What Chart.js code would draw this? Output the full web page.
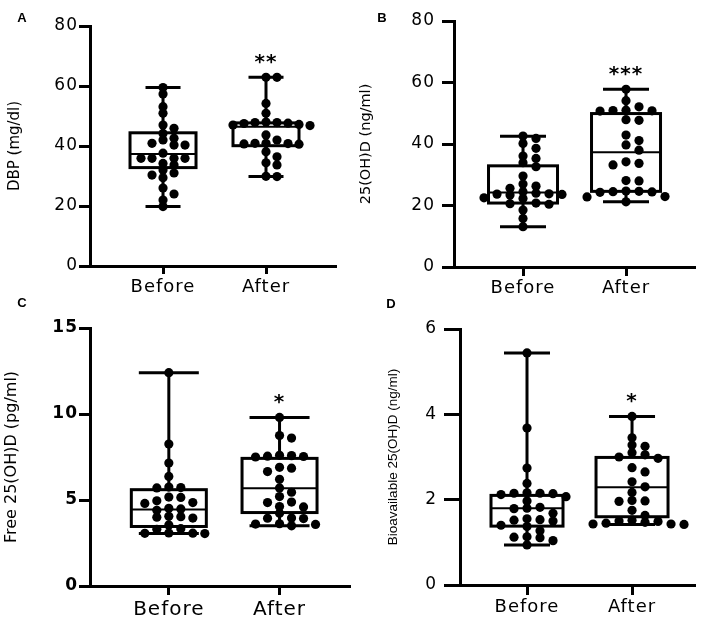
<!DOCTYPE html>
<html>
<head>
<meta charset="utf-8">
<script src="https://cdn.jsdelivr.net/npm/chart.js@4.4.1/dist/chart.umd.min.js"></script>
<style>
  html,body{margin:0;padding:0;background:#fff;}
  #wrap{position:relative;width:709px;height:618px;overflow:hidden;background:#fff;}
  canvas{position:absolute;}
  .lbl{position:absolute;font:bold 13px "Liberation Sans",Arial,sans-serif;color:#000;transform:translate(-50%,-50%);}
</style>
</head>
<body>
<div id="wrap">
  <canvas id="cA"></canvas><canvas id="cB"></canvas><canvas id="cC"></canvas><canvas id="cD"></canvas>
  <div class="lbl" style="left:22px;top:17px">A</div>
  <div class="lbl" style="left:382px;top:17px">B</div>
  <div class="lbl" style="left:22px;top:302px">C</div>
  <div class="lbl" style="left:391px;top:303px">D</div>
</div>
<script>
// ---------- data ----------
const categories = ['Before', 'After'];

// A: DBP (mg/dl)
const dbpBefore = [59.5, 57.3, 53.1, 50.9, 47, 45.9, 44.2, 42.6, 42, 40.9, 40.3, 40.3, 37.6, 35.9, 35.9, 35.9, 35.9, 34.2, 33.7, 32, 31, 30.3, 29.4, 26, 24, 22, 19.8];
const dbpAfter  = [62.9, 62.9, 54.2, 50.9, 48, 47.8, 47.8, 47.6, 47.5, 47.2, 47, 46.8, 43.7, 42, 40.9, 40.9, 40.8, 40.7, 40.6, 38.1, 36.4, 34.4, 33.7, 29.9, 29.8];
// box stats: [min, q1, median, q3, max]
const dbpBoxBefore = [19.8, 32.8, 37.3, 44.4, 59.5];
const dbpBoxAfter  = [29.8, 40.1, 46.4, 47.7, 62.9];

// B: 25(OH)D (ng/ml)
const ohdBefore = [42.6, 41.8, 40.2, 38.6, 36.1, 35.3, 33.9, 32.6, 29.6, 27, 26.3, 25.6, 24.5, 24, 23.8, 23.7, 23.6, 23.4, 22.5, 22.3, 20.8, 20.6, 20.4, 18.5, 15.8, 13.1];
const ohdAfter  = [57.8, 54.1, 52.1, 51, 50.9, 50.8, 50.7, 47.9, 47.7, 42.9, 41.1, 39.7, 38, 34.2, 33.7, 33.2, 28.1, 28, 24.7, 24.6, 24.5, 24.4, 24.3, 22.9, 22.8, 21.2];
const ohdBoxBefore = [13.1, 20.8, 24.2, 32.9, 42.5];
const ohdBoxAfter  = [21.2, 24.6, 37.3, 49.9, 57.8];

// C: Free 25(OH)D (pg/ml)
const freeBefore = [12.4, 8.25, 7.15, 6.37, 5.75, 5.72, 5.7, 5.17, 5.15, 4.95, 4.85, 4.8, 4.52, 4.48, 4.4, 4.05, 4.03, 4.0, 3.95, 3.55, 3.33, 3.3, 3.08, 3.07, 3.06, 3.05];
const freeAfter  = [9.8, 8.75, 8.6, 7.6, 7.58, 7.55, 7.53, 7.5, 6.9, 6.85, 6.65, 6.2, 5.7, 5.45, 5.2, 4.88, 4.85, 4.62, 4.6, 4.23, 3.95, 3.94, 3.92, 3.62, 3.6, 3.58, 3.5];
const freeBoxBefore = [3.05, 3.46, 4.45, 5.6, 12.4];
const freeBoxAfter  = [3.5, 4.27, 5.69, 7.42, 9.8];

// D: Bioavailable 25(OH)D (ng/ml)
const bioBefore = [5.44, 3.68, 2.74, 2.38, 2.16, 2.15, 2.15, 2.14, 2.12, 2.07, 1.97, 1.82, 1.8, 1.79, 1.68, 1.55, 1.53, 1.52, 1.5, 1.4, 1.37, 1.27, 1.13, 1.12, 1.11, 1.04, 0.94];
const bioAfter  = [3.95, 3.45, 3.28, 3.25, 3.1, 3.05, 3.0, 2.97, 2.75, 2.65, 2.42, 2.3, 2.17, 1.98, 1.97, 1.96, 1.75, 1.63, 1.52, 1.5, 1.49, 1.47, 1.45, 1.43, 1.43, 1.42];
const bioBoxBefore = [0.94, 1.38, 1.8, 2.1, 5.44];
const bioBoxAfter  = [1.42, 1.6, 2.29, 2.99, 3.95];

const yTitles = ['DBP (mg/dl)', '25(OH)D (ng/ml)', 'Free 25(OH)D (pg/ml)', 'Bioavailable 25(OH)D (ng/ml)'];
const yMaxes = [80, 80, 15, 6];
const ySteps = [20, 20, 5, 2];
const signif = ['**', '***', '*', '*'];

// ---------- layout / style per panel ----------
const FONT = '"DejaVu Sans", sans-serif';
const panels = [
  {id:'cA', left:0, top:0, w:354, h:300, padTop:26, padRight:19, yw:90, xh:34, xmin:0.291, xmax:2.670,
   before:dbpBefore, after:dbpAfter, boxes:[dbpBoxBefore, dbpBoxAfter],
   titleFont:{size:15, family:FONT}, titlePad:6, yTickLen:11, yTickPad:1, yTickFont:{size:17, family:FONT},
   xTickLen:8, xTickPad:3, xTickFont:{size:18, family:FONT}, boxHalf:33, capHalf:17.5, spacing:11},
  {id:'cB', left:354, top:0, w:355, h:300, padTop:21, padRight:15, yw:100, xh:33, xmin:0.330, xmax:2.660,
   before:ohdBefore, after:ohdAfter, boxes:[ohdBoxBefore, ohdBoxAfter],
   titleFont:{size:14.5, family:FONT}, titlePad:3.3, yTickLen:12, yTickPad:7, yTickFont:{size:17, family:FONT},
   xTickLen:9, xTickPad:2, xTickFont:{size:18, family:FONT}, boxHalf:34.5, capHalf:23, spacing:13},
  {id:'cC', left:0, top:300, w:354, h:318, padTop:28, padRight:4, yw:90, xh:32, xmin:0.288, xmax:2.631,
   before:freeBefore, after:freeAfter, boxes:[freeBoxBefore, freeBoxAfter],
   titleFont:{size:16, family:FONT}, titlePad:2.4, yTickLen:11, yTickPad:1, yTickFont:{size:17, family:FONT, weight:'bold'},
   xTickLen:9, xTickPad:3, xTickFont:{size:20, family:FONT}, boxHalf:37.5, capHalf:30, spacing:12},
  {id:'cD', left:354, top:300, w:355, h:318, padTop:29, padRight:15, yw:106, xh:33, xmin:0.362, xmax:2.590,
   before:bioBefore, after:bioAfter, boxes:[bioBoxBefore, bioBoxAfter],
   titleFont:{size:13.5, family:'"Liberation Sans", Arial, sans-serif'}, titlePad:31, yTickLen:16, yTickPad:7, yTickFont:{size:17, family:FONT},
   xTickLen:10, xTickPad:2, xTickFont:{size:18, family:FONT}, boxHalf:36, capHalf:23, spacing:13}
];

function makeBoxPlugin(p, idx){
  return {
    id:'boxes'+idx,
    beforeDraw(chart){ chart.ctx.letterSpacing = '0px'; },
    beforeDatasetsDraw(chart){
      const ctx = chart.ctx, xs = chart.scales.x, ys = chart.scales.y;
      ctx.save();
      ctx.strokeStyle = '#000';
      ctx.lineCap = 'butt';
      p.boxes.forEach((s, i) => {
        const cx = xs.getPixelForValue(i + 1);
        const [mn, q1, md, q3, mx] = s.map(v => ys.getPixelForValue(v));
        ctx.lineWidth = 3;
        ctx.beginPath();
        ctx.moveTo(cx, mx); ctx.lineTo(cx, q3);
        ctx.moveTo(cx, q1); ctx.lineTo(cx, mn);
        ctx.moveTo(cx - p.capHalf, mx); ctx.lineTo(cx + p.capHalf, mx);
        ctx.moveTo(cx - p.capHalf, mn); ctx.lineTo(cx + p.capHalf, mn);
        ctx.stroke();
        ctx.strokeRect(cx - p.boxHalf, q3, 2 * p.boxHalf, q1 - q3);
        ctx.lineWidth = 2;
        ctx.beginPath();
        ctx.moveTo(cx - p.boxHalf, md); ctx.lineTo(cx + p.boxHalf, md);
        ctx.stroke();
      });
      ctx.restore();
    },
    afterDatasetsDraw(chart){ chart.ctx.letterSpacing = '1px'; },
    afterDraw(chart){
      const ctx = chart.ctx, xs = chart.scales.x, ys = chart.scales.y;
      ctx.save();
      ctx.letterSpacing = '1px';
      ctx.fillStyle = '#000';
      ctx.font = 'bold 20px ' + FONT;
      ctx.textAlign = 'center';
      ctx.textBaseline = 'alphabetic';
      const cx = xs.getPixelForValue(2);
      const cy = ys.getPixelForValue(p.boxes[1][4]) - 21;
      ctx.fillText(signif[idx], cx, cy + 11.4);
      ctx.restore();
      ctx.letterSpacing = '0px';
    }
  };
}

function swarm(chart, groups, spacing){
  const xs = chart.scales.x, ys = chart.scales.y;
  const unit = xs.getPixelForValue(2) - xs.getPixelForValue(1);
  groups.forEach((vals, gi) => {
    const placed = [];
    chart.data.datasets[gi].data = vals.map(v => {
      const py = ys.getPixelForValue(v);
      let col = 0;
      for (let k = 0; k < 30; k++) {
        const c = k === 0 ? 0 : (k % 2 ? Math.ceil(k / 2) : -k / 2);
        if (!placed.some(q => q.col === c && Math.abs(q.py - py) < 6.5)) { col = c; break; }
      }
      placed.push({col, py});
      return {x: gi + 1 + col * spacing / unit, y: v};
    });
  });
  chart.update('none');
}

panels.forEach((p, idx) => {
  const cv = document.getElementById(p.id);
  cv.width = p.w; cv.height = p.h;
  cv.style.left = p.left + 'px'; cv.style.top = p.top + 'px';
  cv.style.width = p.w + 'px'; cv.style.height = p.h + 'px';
  const ds = (vals) => ({
    data: vals.map(v => ({x: 0, y: v})),
    pointRadius: 4.6, pointHoverRadius: 4.6, pointStyle: 'circle',
    backgroundColor: '#000', borderColor: '#000', borderWidth: 0, showLine: false
  });
  const chart = new Chart(cv, {
    type: 'scatter',
    data: {datasets: [ds(p.before), ds(p.after)]},
    options: {
      responsive: false, animation: false, events: [], devicePixelRatio: 1,
      layout: {padding: {top: p.padTop, right: p.padRight, left: 0, bottom: 0}},
      plugins: {legend: {display: false}, tooltip: {enabled: false}, title: {display: false}},
      scales: {
        x: {
          type: 'linear', min: p.xmin, max: p.xmax,
          afterBuildTicks: s => { s.ticks = [{value: 1}, {value: 2}]; },
          afterFit: s => { s.height = p.xh; },
          ticks: {callback: v => categories[v - 1], font: p.xTickFont, color: '#000',
                  padding: p.xTickPad, z: 1, autoSkip: false, maxRotation: 0},
          grid: {display: true, drawOnChartArea: false, drawTicks: true, tickLength: p.xTickLen,
                 color: '#000', lineWidth: 3},
          border: {display: true, color: '#000', width: 3}
        },
        y: {
          min: 0, max: yMaxes[idx],
          afterFit: s => { s.width = p.yw; },
          ticks: {stepSize: ySteps[idx], font: p.yTickFont, color: '#000', padding: p.yTickPad, z: 1},
          grid: {display: true, drawOnChartArea: false, drawTicks: true, tickLength: p.yTickLen,
                 color: '#000', lineWidth: 3},
          border: {display: true, color: '#000', width: 3},
          title: {display: true, text: yTitles[idx], color: '#000',
                  font: p.titleFont, padding: {top: p.titlePad, bottom: 0}}
        }
      }
    },
    plugins: [makeBoxPlugin(p, idx)]
  });
  swarm(chart, [p.before, p.after], p.spacing);
});
</script>
</body>
</html>
